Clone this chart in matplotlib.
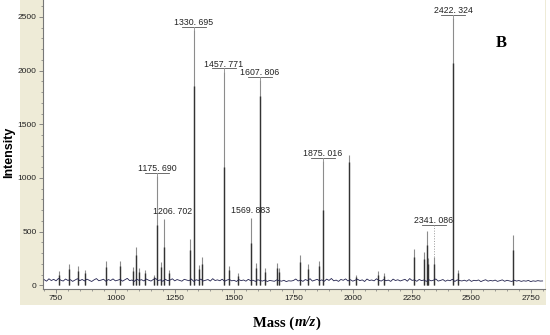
import numpy as np
import matplotlib
matplotlib.use("Agg")
from matplotlib import pyplot as plt
from matplotlib.patches import Rectangle
from matplotlib.ticker import MultipleLocator

# baseline trace, one value every 10 m/z from 700 to 2800
base_start, base_step = 700, 10
baseline = [52, 38, 60, 44, 55, 41, 63, 47, 39, 58, 45, 52, 36, 49, 61, 43, 54, 40, 57, 46,
            35, 50, 62, 42, 48, 56, 37, 53, 44, 59, 41, 47, 55, 38, 51, 64, 43, 49, 36, 57,
            45, 52, 40, 58, 47, 39, 54, 62, 44, 50, 37, 56, 43, 48, 60, 41, 53, 46, 38, 55,
            49, 42, 58, 36, 51, 45, 57, 40, 47, 53, 39, 61, 44, 50, 42, 56, 37, 48, 54, 41,
            46, 35, 52, 43, 49, 38, 55, 42, 47, 36, 51, 44, 39, 48, 35, 45, 41, 37, 50, 43,
            38, 46, 34, 42, 39, 44, 58, 40, 49, 36, 53, 44, 61, 39, 47, 55, 42, 50, 37, 57,
            45, 63, 41, 48, 36, 54, 46, 59, 40, 52, 38, 47, 56, 43, 50, 35, 58, 44, 49, 41,
            60, 46, 39, 53, 42, 48, 36, 57, 44, 51, 40, 47, 55, 38, 62, 45, 50, 37, 54, 43,
            49, 36, 52, 41, 47, 58, 39, 45, 53, 37, 48, 42, 56, 35, 50, 44, 40, 47, 38, 52,
            36, 46, 42, 49, 34, 44, 51, 38, 45, 40, 48, 36, 43, 50, 37, 46, 41, 35, 47, 39,
            44, 36, 42, 38, 45, 34, 41, 37, 43, 39, 40]

# peaks: position, full height, height of the dark core
peak_mz = [761, 803, 841, 871, 960, 1018, 1073, 1088, 1101, 1123, 1163, 1175.69, 1192,
           1206.70, 1227, 1316, 1330.70, 1353, 1366, 1457.77, 1480, 1518, 1569.88, 1593,
           1607.81, 1631, 1682, 1690, 1776, 1812, 1856, 1875.02, 1985, 2013, 2107, 2131,
           2259, 2299, 2311, 2319, 2341.09, 2422.32, 2444, 2674]
peak_height = [130, 195, 175, 140, 225, 225, 170, 355, 160, 140, 95, 1020, 220,
               615, 145, 430, 2380, 190, 260, 1990, 175, 110, 625, 205,
               1910, 160, 205, 160, 285, 195, 225, 1155, 1210, 95, 130, 110,
               340, 310, 505, 250, 260, 2490, 145, 465]
peak_core = [100, 150, 130, 110, 170, 180, 130, 280, 120, 110, 80, 560, 170,
             360, 110, 330, 1860, 150, 200, 1100, 140, 90, 390, 160,
             1760, 120, 160, 120, 220, 150, 180, 700, 1150, 80, 100, 90,
             260, 240, 375, 200, 200, 2070, 110, 330]

label_mz = [1175.690, 1206.702, 1330.695, 1457.771, 1569.883, 1607.806, 1875.016,
            2341.086, 2422.324]

fig = plt.figure(figsize=(5.5, 3.35), dpi=100)
bg = Rectangle((20 / 550, 1 - 305 / 335), 526 / 550, 305 / 335,
               transform=fig.transFigure, facecolor='#eeebd7',
               edgecolor='none', zorder=-10)
fig.patches.append(bg)
ax = fig.add_axes([43 / 550, 1 - 289 / 335, 502 / 550, 289 / 335])
ax.set_zorder(1)
ax.set_facecolor('white')

mz = base_start + base_step * np.arange(len(baseline))
ax.vlines(peak_mz, 0, peak_height, color='#8c8c8c', lw=0.8, zorder=2)
ax.vlines(peak_mz, 0, peak_core, color='#333333', lw=1.0, zorder=3)
ax.plot(mz, baseline, color='#23234f', lw=0.6, zorder=4)

tops = dict(zip(peak_mz, peak_height))
for m in label_mz:
    top = tops[min(tops, key=lambda p: abs(p - m))]
    txt = f"{m:.3f}".replace('.', '. ')
    dx = 0
    ul = True
    dotted = False
    ty = top + 70
    if m == 1206.702:
        dx, ul = 35, False
    if m == 1569.883:
        ul = False
    if m == 2341.086:
        ty, dotted = 600, True
    ax.text(m + dx, ty, txt, ha='center', va='center', fontsize=6.3,
            family='Liberation Sans', color='#222222', zorder=5)
    if ul:
        ax.plot([m - 50, m + 50], [ty - 40, ty - 40], color='#555555', lw=0.6, zorder=5)
        ax.plot([m, m], [ty - 40, top], color='#999999', lw=0.7,
                ls=':' if dotted else '-', zorder=5)

ax.set_xlim(695, 2810)
ax.set_ylim(-35, 2658)
ax.xaxis.set_major_locator(MultipleLocator(250))
ax.xaxis.set_minor_locator(MultipleLocator(50))
ax.yaxis.set_major_locator(MultipleLocator(500))
ax.yaxis.set_minor_locator(MultipleLocator(100))
for s in ['top', 'right']:
    ax.spines[s].set_visible(False)
for s in ['left', 'bottom']:
    ax.spines[s].set_color('#777777')
    ax.spines[s].set_linewidth(0.8)
ax.tick_params(which='major', length=3, width=0.6, color='#777777', pad=1.5,
               labelsize=6, labelcolor='#222222')
ax.tick_params(which='minor', length=1.5, width=0.5, color='#777777')
for lab in ax.get_xticklabels() + ax.get_yticklabels():
    lab.set_family('Liberation Sans')

fig.text(9 / 550, 1 - 152 / 335, 'Intensity', rotation=90, ha='center', va='center',
         fontsize=9, fontweight='bold', family='Liberation Sans')

# x label: "Mass (" bold, "m/z" bold italic, ")" bold
renderer = fig.canvas.get_renderer()
parts = [('Mass (', 'normal'), ('m/z', 'italic'), (')', 'normal')]
items = [fig.text(0, 1 - 323 / 335, s, ha='left', va='center', fontsize=10.5,
                  fontweight='bold', fontstyle=st, family='Liberation Serif')
         for s, st in parts]
widths = [t.get_window_extent(renderer).width for t in items]
x0 = 287 - sum(widths) / 2
for t, w in zip(items, widths):
    t.set_x(x0 / 550)
    x0 += w

fig.text(501 / 550, 1 - 43 / 335, 'B', ha='center', va='center',
         fontsize=12, fontweight='bold', family='Liberation Serif')

fig.savefig('out.png', dpi=100)
